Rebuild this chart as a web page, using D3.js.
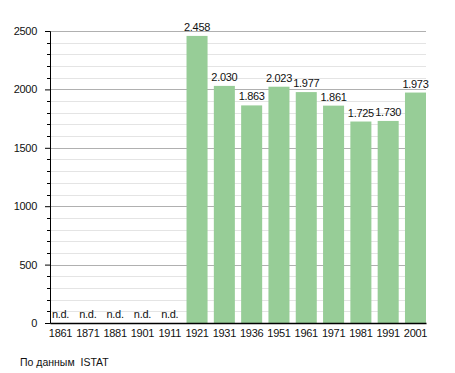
<!DOCTYPE html>
<html>
<head>
<meta charset="utf-8">
<script src="https://cdn.jsdelivr.net/npm/d3@7"></script>
<style>
  body { margin: 0; background: #fff; }
  svg { display: block; font-family: "Liberation Sans", Arial, sans-serif; }
</style>
</head>
<body>
<div id="container"></div>
<script>
const years = ['1861', '1871', '1881', '1901', '1911', '1921', '1931', '1936', '1951', '1961', '1971', '1981', '1991', '2001'];
// null = n.d. (no data)
const population = [null, null, null, null, null, 2458, 2030, 1863, 2023, 1977, 1861, 1725, 1730, 1973];
const yTicks = [0, 500, 1000, 1500, 2000, 2500];
const sourceNote = 'По данным  ISTAT';

const width = 455;
const height = 373;
const margin = { top: 31, left: 50, right: 29, bottom: 50 };
const plotW = width - margin.left - margin.right;
const plotH = height - margin.top - margin.bottom;
const fontSize = 11;
const spacing = '-0.3px';

const svg = d3.select('#container').append('svg')
    .attr('width', width)
    .attr('height', height);

const g = svg.append('g')
    .attr('transform', `translate(${margin.left},${margin.top})`);

const x = d3.scaleBand()
    .domain(years)
    .range([0, plotW])
    .paddingInner(0.23)
    .paddingOuter(0);

const y = d3.scaleLinear()
    .domain([0, 2500])
    .range([plotH, 0]);

const fmt = v => d3.format(',')(v).replace(/,/g, '.');
const minorVals = d3.range(100, 2500, 100).filter(v => v % 500 !== 0);

// minor grid lines every 100
g.append('g')
    .selectAll('line')
    .data(minorVals)
    .enter()
    .append('line')
    .attr('x1', 0)
    .attr('x2', plotW)
    .attr('y1', d => Math.round(y(d)) + 0.5)
    .attr('y2', d => Math.round(y(d)) + 0.5)
    .attr('stroke', '#e4e4e4')
    .attr('stroke-width', 1);

// major grid lines
g.append('g')
    .selectAll('line')
    .data(yTicks.filter(v => v > 0))
    .enter()
    .append('line')
    .attr('x1', 0)
    .attr('x2', plotW)
    .attr('y1', d => Math.round(y(d)) + 0.5)
    .attr('y2', d => Math.round(y(d)) + 0.5)
    .attr('stroke', '#b0b0b0')
    .attr('stroke-width', 1);

// bars
const rows = years.map((yr, i) => ({ year: yr, value: population[i] }));

g.append('g')
    .selectAll('rect')
    .data(rows.filter(d => d.value !== null))
    .enter()
    .append('rect')
    .attr('x', d => x(d.year))
    .attr('y', d => y(d.value))
    .attr('width', x.bandwidth())
    .attr('height', d => plotH - y(d.value))
    .attr('fill', '#97cd97');

// value labels
g.append('g')
    .selectAll('text')
    .data(rows)
    .enter()
    .append('text')
    .attr('x', d => x(d.year) + x.bandwidth() / 2)
    .attr('y', d => d.value === null ? plotH - 5 : y(d.value) - 5)
    .attr('text-anchor', 'middle')
    .attr('font-size', fontSize)
    .attr('letter-spacing', spacing)
    .attr('fill', '#111')
    .text(d => d.value === null ? 'n.d.' : fmt(d.value));

// y axis
const yAxis = d3.axisLeft(y)
    .tickValues(yTicks)
    .tickSize(5)
    .tickPadding(8)
    .tickFormat(d3.format('d'));

const yG = g.append('g').call(yAxis);
yG.select('.domain').attr('stroke', '#000');
yG.selectAll('.tick line').attr('stroke', '#000');
yG.selectAll('.tick text').attr('font-size', fontSize).attr('fill', '#111')
    .attr('letter-spacing', spacing)
    .attr('font-family', '"Liberation Sans", Arial, sans-serif');

// minor ticks on y axis
g.append('g')
    .selectAll('line')
    .data(minorVals)
    .enter()
    .append('line')
    .attr('x1', -3)
    .attr('x2', 0)
    .attr('y1', d => Math.round(y(d)) + 0.5)
    .attr('y2', d => Math.round(y(d)) + 0.5)
    .attr('stroke', '#000');

// x axis
const xG = g.append('g')
    .attr('transform', `translate(0,${plotH})`)
    .call(d3.axisBottom(x).tickSize(0).tickPadding(6));
xG.select('.domain').attr('stroke', '#000').attr('stroke-width', 1.5);
xG.selectAll('.tick text').attr('font-size', fontSize).attr('fill', '#111')
    .attr('letter-spacing', spacing)
    .attr('font-family', '"Liberation Sans", Arial, sans-serif');

// source note
svg.append('text')
    .attr('x', 20)
    .attr('y', 366)
    .attr('font-size', 10.5)
    .attr('fill', '#111')
    .style('white-space', 'pre')
    .text(sourceNote);
</script>
</body>
</html>
